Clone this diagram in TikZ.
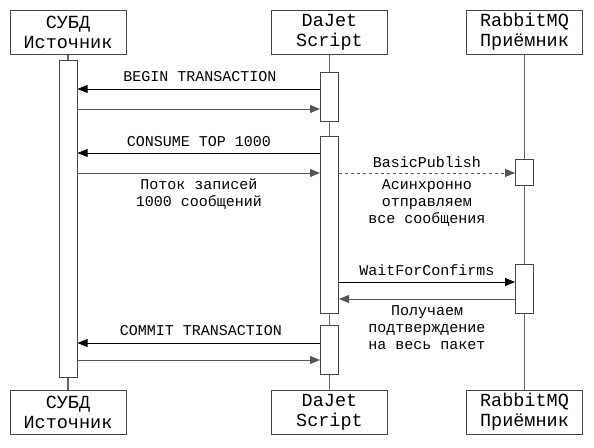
\documentclass[tikz,border=0pt]{standalone}
\usepackage{fontspec}
\setmainfont{Liberation Mono}
\usetikzlibrary{arrows.meta,calc}
\definecolor{boxline}{HTML}{444444}
\definecolor{lifeline}{HTML}{666666}
\definecolor{retline}{HTML}{555555}
\tikzset{
  x=1pt, y=-1pt,
  part/.style={draw=boxline, line width=1pt, fill=white, minimum width=116pt, minimum height=44pt, inner sep=0pt, align=center, font=\fontsize{18.5}{20}\selectfont},
  act/.style={draw=boxline, line width=1pt, fill=white, minimum width=18pt, inner sep=0pt},
  life/.style={draw=lifeline, line width=1.4pt},
  call/.style={draw=black, line width=0.9pt, -{Triangle[length=10pt,width=8pt]}},
  ret/.style={draw=retline, line width=0.9pt, -{Triangle[length=10pt,width=8pt]}},
  async/.style={draw=retline, line width=0.9pt, dash pattern=on 3pt off 3pt, -{Triangle[length=10pt,width=8pt]}},
  lbl/.style={align=center, inner sep=0pt, font=\fontsize{15}{17}\selectfont},
}
\begin{document}
\begin{tikzpicture}
\useasboundingbox[fill=white] (0,0) rectangle (594,447);
% participants
\node[part] (pAt) at (68,32) {СУБД\\Источник};
\node[part] (pBt) at (329.5,32) {DaJet\\Script};
\node[part] (pCt) at (524.5,32) {RabbitMQ\\Приёмник};
\node[part] (pAb) at (68,412) {СУБД\\Источник};
\node[part] (pBb) at (329.5,412) {DaJet\\Script};
\node[part] (pCb) at (524.5,412) {RabbitMQ\\Приёмник};
% lifelines
\draw[life] (pAt) -- (pAb);
\draw[life] (pBt) -- (pBb);
\draw[life] (pCt) -- (pCb);
% activations
\node[act, minimum height=317pt] (aA) at (68,218.5) {};
\node[act, minimum height=49pt] (aB1) at (329.5,96.5) {};
\node[act, minimum height=177pt] (aB2) at (329.5,224.5) {};
\node[act, minimum height=49pt] (aB3) at (329.5,349.5) {};
\node[act, minimum height=26pt] (aC1) at (524.5,172) {};
\node[act, minimum height=49pt] (aC2) at (524.5,288.5) {};
% messages
\draw[call] (aB1.west |- {0,89}) -- (aA.east |- {0,89});
\node[lbl] (l1) at (200,77) {BEGIN TRANSACTION};
\draw[ret] (aA.east |- {0,109}) -- (aB1.west |- {0,109});

\draw[call] (aB2.west |- {0,153}) -- (aA.east |- {0,153});
\node[lbl] (l2) at (199,142) {CONSUME TOP 1000};
\draw[ret] (aA.east |- {0,173}) -- (aB2.west |- {0,173});
\node[lbl] (l3) at (199,194.5) {Поток записей\\1000 сообщений};

\draw[async] (aB2.east |- {0,173}) -- (aC1.west |- {0,173});
\node[lbl] (l4) at (427,162) {BasicPublish};
\node[lbl] (l5) at (427,203) {Асинхронно\\отправляем\\все сообщения};

\draw[call] (aB2.east |- {0,282}) -- (aC2.west |- {0,282});
\node[lbl] (l6) at (427,270) {WaitForConfirms};
\draw[ret] (aC2.west |- {0,299}) -- (aB2.east |- {0,299});
\node[lbl] (l7) at (427,328) {Получаем\\подтверждение\\на весь пакет};

\draw[call] (aB3.west |- {0,343}) -- (aA.east |- {0,343});
\node[lbl] (l8) at (201,331) {COMMIT TRANSACTION};
\draw[ret] (aA.east |- {0,360}) -- (aB3.west |- {0,360});
\end{tikzpicture}
\end{document}
